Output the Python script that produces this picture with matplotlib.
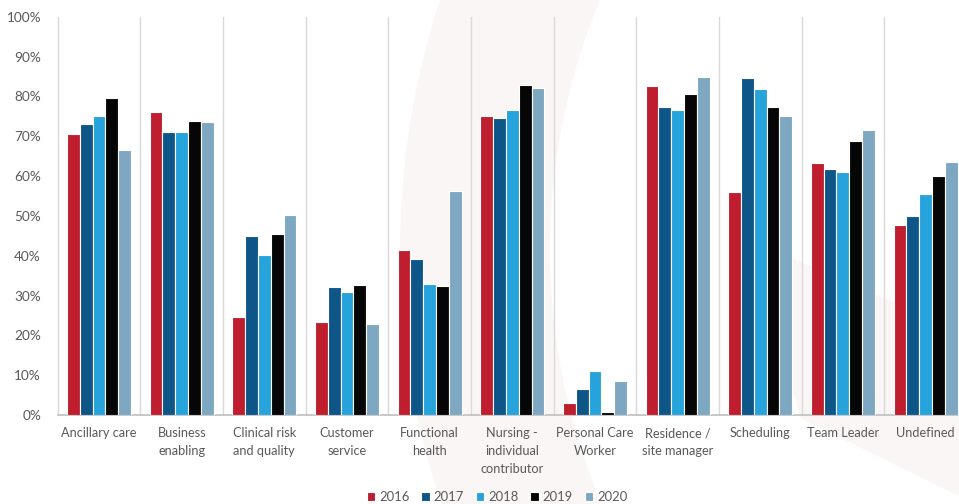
import numpy as np
import matplotlib
matplotlib.use('Agg')
import matplotlib.pyplot as plt
from matplotlib.patches import Wedge, Polygon

categories = ['Ancillary care', 'Business\nenabling', 'Clinical risk\nand quality', 'Customer\nservice',
              'Functional\nhealth', 'Nursing -\nindividual\ncontributor', 'Personal Care\nWorker',
              'Residence /\nsite manager', 'Scheduling', 'Team Leader', 'Undefined']
years = ['2016', '2017', '2018', '2019', '2020']

v2016 = [70.5, 76.2, 24.6, 23.3, 41.4, 75.2, 3.1, 82.7, 55.9, 63.2, 47.6]
v2017 = [73.1, 71.1, 44.9, 32.2, 39.2, 74.7, 6.5, 77.3, 84.7, 61.7, 49.9]
v2018 = [75.0, 71.0, 40.1, 30.8, 32.9, 76.7, 11.0, 76.5, 81.8, 61.0, 55.6]
v2019 = [79.7, 73.8, 45.5, 32.6, 32.4, 82.8, 0.8, 80.6, 77.3, 68.7, 60.1]
v2020 = [66.5, 73.6, 50.2, 22.8, 56.2, 82.1, 8.5, 84.9, 75.0, 71.6, 63.6]

colors = ['#BE1E2D', '#0E5688', '#27A3DB', '#060606', '#7EA8C1']

plt.rcParams['font.family'] = ['Lato', 'DejaVu Sans']

fig = plt.figure(figsize=(9.59, 5.04), dpi=100)

# faint watermark shapes behind the chart
bg = fig.add_axes([0, 0, 1, 1], zorder=0)
bg.set_xlim(0, 959)
bg.set_ylim(504, 0)
bg.axis('off')
bg.add_patch(Wedge((1201, 250), 801, 150, 210, width=150, color='#FBF6F6', lw=0))
bg.add_patch(Polygon([(762, 262), (775, 251), (959, 330), (959, 496), (800, 418)],
                     closed=True, color='#FBF6F6', lw=0))

ax = fig.add_axes([0.0602, 0.1766, 0.948, 0.790], zorder=1)
ax.patch.set_alpha(0)

data = [v2016, v2017, v2018, v2019, v2020]
x = np.arange(len(categories))
slot = 0.155
for i in range(5):
    ax.bar(x + (i - 2) * slot, data[i], width=slot, color=colors[i],
           edgecolor='white', linewidth=0.8, label=years[i], zorder=3)

# vertical separators between categories
for k in range(len(categories) + 1):
    ax.plot([k - 0.5, k - 0.5], [0, 100], color='#D9D9D9', lw=1, zorder=1, clip_on=False)

ax.set_xlim(-0.5, len(categories) - 0.5)
ax.set_ylim(0, 100)
ax.set_yticks(np.arange(0, 101, 10))
ax.set_yticklabels([str(t) + '%' for t in range(0, 101, 10)])
ax.set_xticks(x)
ax.set_xticklabels(categories, linespacing=1.6, va='top')
ax.tick_params(axis='both', length=0, colors='#595959', labelsize=9.2)
ax.tick_params(axis='y', labelsize=9.8)
ax.tick_params(axis='x', pad=9)
ax.tick_params(axis='y', pad=12)
for s in ['top', 'right', 'left']:
    ax.spines[s].set_visible(False)
ax.spines['bottom'].set_color('#BFBFBF')
ax.spines['bottom'].set_linewidth(1.2)

leg = fig.legend(loc='center', bbox_to_anchor=(497 / 959, 1 - 497 / 504), ncol=5, frameon=False,
                 fontsize=9.4, handlelength=0.65, handleheight=0.65, handletextpad=0.3, columnspacing=0.9)
for t in leg.get_texts():
    t.set_color('#595959')

fig.savefig('out.png', dpi=100)
